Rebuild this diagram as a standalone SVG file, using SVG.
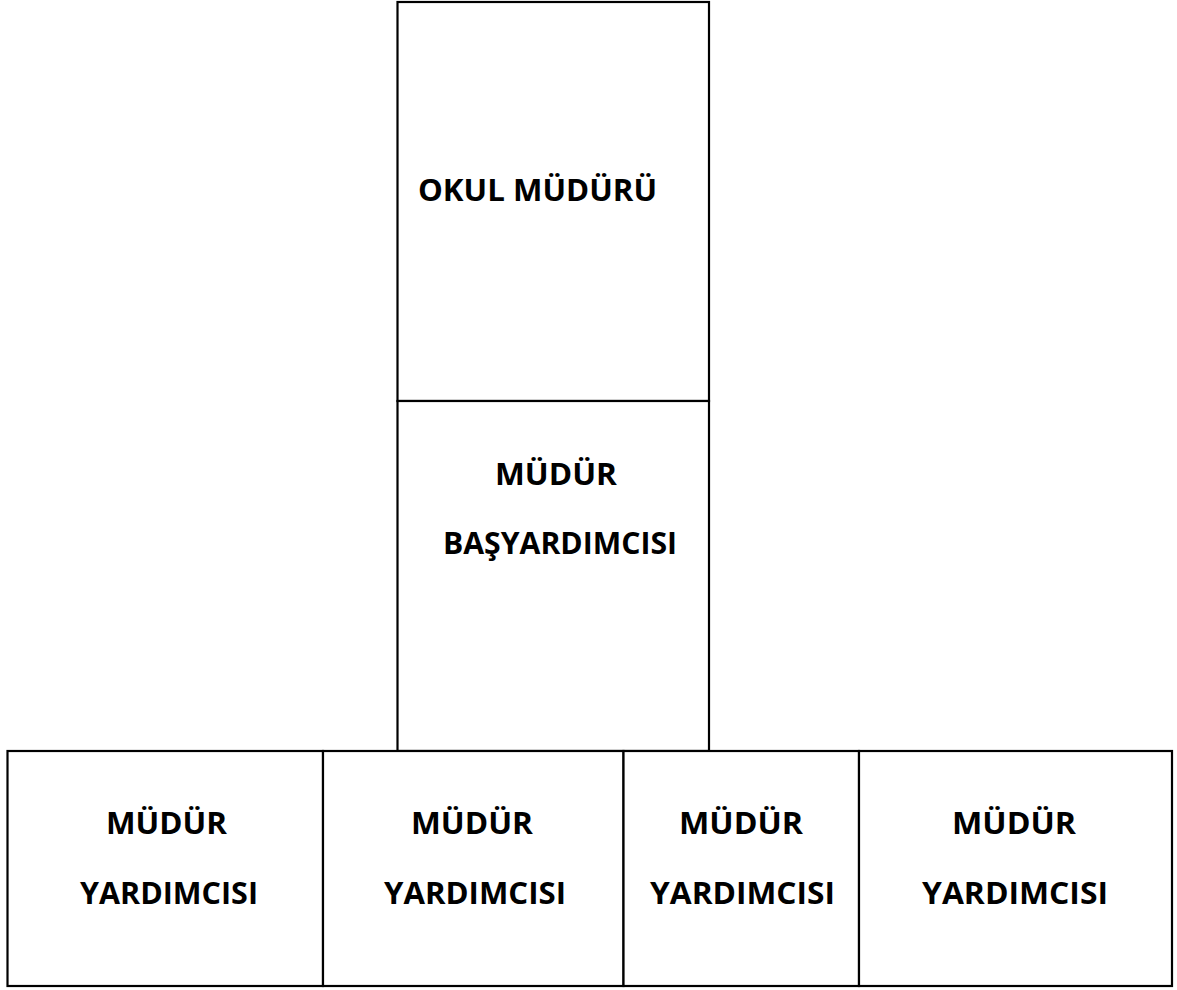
<svg xmlns="http://www.w3.org/2000/svg" width="1177" height="990" viewBox="0 0 1177 990">
<style>
.box{fill:#fff;stroke:#000;stroke-width:2.2}
.t{font-family:"Open Sans","Liberation Sans",sans-serif;font-weight:bold;font-size:29.5px;fill:#000}
</style>
<rect width="1177" height="990" fill="#fff"/>
<g id="okul-muduru">
<rect class="box" x="397.5" y="2" width="311.5" height="399"/>
<text class="t" x="418" y="200.5" textLength="239" lengthAdjust="spacingAndGlyphs">OKUL MÜDÜRÜ</text>
</g>
<g id="mudur-basyardimcisi">
<rect class="box" x="397.5" y="401" width="311.5" height="350"/>
<text class="t" x="495" y="485" textLength="122" lengthAdjust="spacingAndGlyphs">MÜDÜR</text>
<text class="t" x="443" y="554" textLength="234" lengthAdjust="spacingAndGlyphs">BAŞYARDIMCISI</text>
</g>
<g id="yardimci-1">
<rect class="box" x="7.5" y="751" width="315.5" height="235"/>
<text class="t" x="106" y="834" textLength="121" lengthAdjust="spacingAndGlyphs">MÜDÜR</text>
<text class="t" x="80" y="904" textLength="178" lengthAdjust="spacingAndGlyphs">YARDIMCISI</text>
</g>
<g id="yardimci-2">
<rect class="box" x="323" y="751" width="300.5" height="235"/>
<text class="t" x="411" y="834" textLength="122" lengthAdjust="spacingAndGlyphs">MÜDÜR</text>
<text class="t" x="384" y="904" textLength="182" lengthAdjust="spacingAndGlyphs">YARDIMCISI</text>
</g>
<g id="yardimci-3">
<rect class="box" x="623.5" y="751" width="235.5" height="235"/>
<text class="t" x="679" y="834" textLength="124" lengthAdjust="spacingAndGlyphs">MÜDÜR</text>
<text class="t" x="650" y="904" textLength="185" lengthAdjust="spacingAndGlyphs">YARDIMCISI</text>
</g>
<g id="yardimci-4">
<rect class="box" x="859" y="751" width="313" height="235"/>
<text class="t" x="952" y="834" textLength="124" lengthAdjust="spacingAndGlyphs">MÜDÜR</text>
<text class="t" x="922" y="904" textLength="186" lengthAdjust="spacingAndGlyphs">YARDIMCISI</text>
</g>
<g id="connectors"></g>
</svg>
